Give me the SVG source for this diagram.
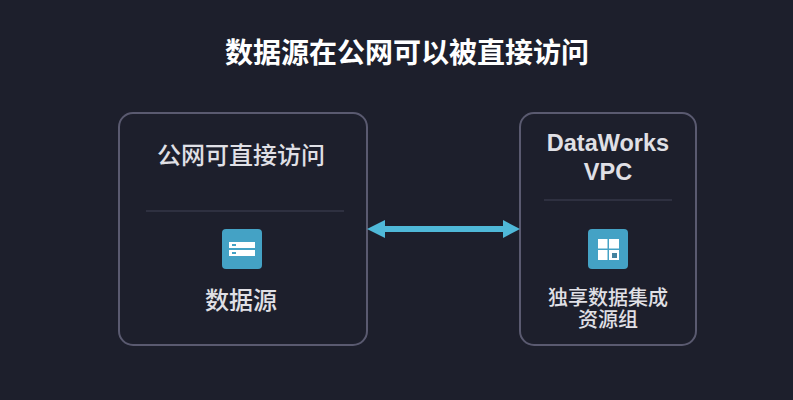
<svg xmlns="http://www.w3.org/2000/svg" width="793" height="400" viewBox="0 0 793 400">
<defs><style>
.t{font-family:"Noto Sans CJK SC","Liberation Sans",sans-serif;text-anchor:middle;font-weight:500}
.box{fill:#1d1f2c;stroke:#5a5a70;stroke-width:2}
.l{stroke:#2e3040;stroke-width:2;fill:none}
.ic{fill:#44a2c5}
.w{fill:#fff}
</style></defs>
<rect width="793" height="400" fill="#1d1f2c"/>
<text class="t" x="407" y="63" font-size="28" fill="#ffffff" style="font-weight:700">数据源在公网可以被直接访问</text>
<g id="left">
<rect class="box" x="119" y="113" width="248" height="232" rx="14"/>
<text class="t" x="241" y="164" font-size="24" fill="#e0e0e6">公网可直接访问</text>
<path class="l" d="M146 211H344"/>
<rect class="ic" x="222" y="229" width="40" height="40" rx="4"/>
<rect class="w" x="229" y="242" width="26" height="6"/>
<rect class="w" x="229" y="250" width="26" height="6"/>
<rect class="ic" x="232" y="244" width="4" height="2"/>
<rect class="ic" x="232" y="252" width="4" height="2"/>
<text class="t" x="241" y="309" font-size="24" fill="#e0e0e6">数据源</text>
</g>
<g id="right">
<rect class="box" x="520" y="113" width="176" height="232" rx="14"/>
<text class="t" x="608" y="151" font-size="23.500" fill="#e0e0e6" style="font-family:'Liberation Sans',sans-serif;font-weight:700">DataWorks</text>
<text class="t" x="608" y="180" font-size="23.500" fill="#e0e0e6" style="font-family:'Liberation Sans',sans-serif;font-weight:700">VPC</text>
<path class="l" d="M544 200H672"/>
<rect class="ic" x="588" y="229" width="40" height="40" rx="4"/>
<rect class="w" x="598" y="239" width="9.500" height="9.500"/>
<rect class="w" x="609" y="239" width="10" height="9.500"/>
<rect class="w" x="598" y="250" width="9.500" height="10"/>
<rect class="w" x="609" y="250" width="10" height="10"/>
<rect x="612" y="253" width="5" height="5" fill="#44839f"/>
<text class="t" x="608" y="304.500" font-size="20" fill="#e0e0e6">独享数据集成</text>
<text class="t" x="608" y="326.500" font-size="20" fill="#e0e0e6">资源组</text>
</g>
<g id="connectors">
<path d="M384 229H504" stroke="#4fb8d8" stroke-width="6" fill="none"/>
<path d="M367 229L385 220V238Z" fill="#4fb8d8"/>
<path d="M520 229L503 220V238Z" fill="#4fb8d8"/>
</g>
</svg>
